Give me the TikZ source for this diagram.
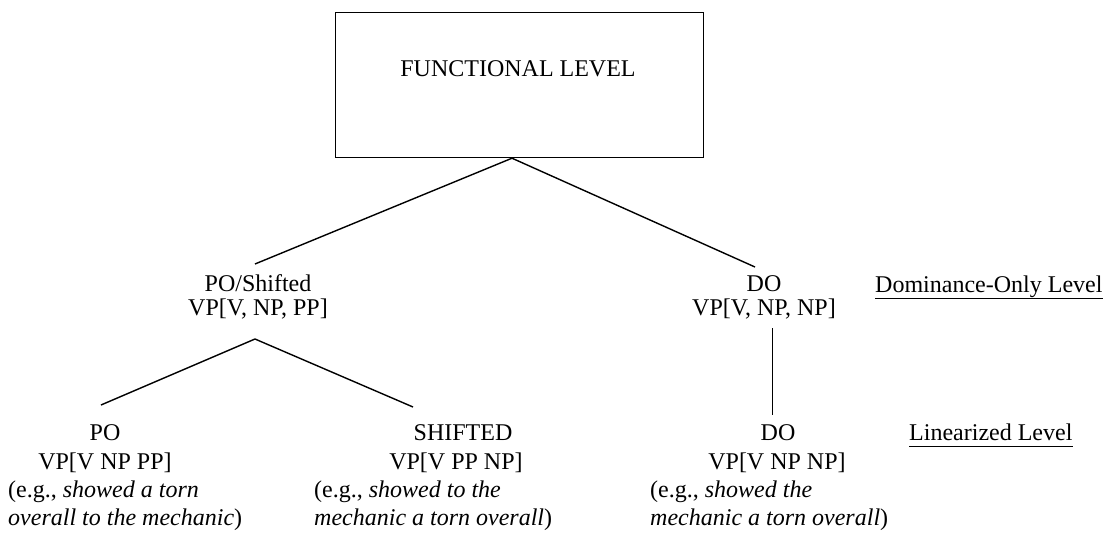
\documentclass[tikz,border=0pt]{standalone}
\usepackage{fontspec}
\setmainfont{Liberation Serif}
\begin{document}
\begin{tikzpicture}[x=1pt,y=-1pt,
  lbl/.style={anchor=base, inner sep=0pt, font=\fontsize{24}{28}\selectfont},
  ex/.style={lbl, anchor=base west},
  conn/.style={line width=1.4pt, black},
  uline/.style={line width=1pt, black}]
\useasboundingbox (0,0) rectangle (1112,536);
% functional level box
\node[draw, line width=1.2pt, minimum width=368pt, minimum height=145pt, inner sep=0pt, anchor=north west] (fl) at (335,12) {};
\node[lbl] (flt) at (518,76) {FUNCTIONAL LEVEL};
% dominance-only level
\node[lbl] (ps1) at (258,291) {PO/Shifted};
\node[lbl] (ps2) at (258,315) {VP[V, NP, PP]};
\node[lbl] (do1) at (764,291) {DO};
\node[lbl] (do2) at (764,315) {VP[V, NP, NP]};
\node[lbl, anchor=base west] (dom) at (875,292) {Dominance-Only Level};
\draw[uline] ([yshift=-6pt]dom.base west) -- ([yshift=-6pt]dom.base east);
% linearized level
\node[lbl] (po1) at (105,440) {PO};
\node[lbl] (po2) at (105,469) {VP[V NP PP]};
\node[ex] (po3) at (8,497) {(e.g., \textit{showed a torn}};
\node[ex] (po4) at (8,525) {\textit{overall to the mechanic})};
\node[lbl] (sh1) at (463,440) {SHIFTED};
\node[lbl] (sh2) at (456,469) {VP[V PP NP]};
\node[ex] (sh3) at (314,497) {(e.g., \textit{showed to the}};
\node[ex] (sh4) at (314,525) {\textit{mechanic a torn overall})};
\node[lbl] (dl1) at (778,440) {DO};
\node[lbl] (dl2) at (777,469) {VP[V NP NP]};
\node[ex] (dl3) at (650,497) {(e.g., \textit{showed the}};
\node[ex] (dl4) at (650,525) {\textit{mechanic a torn overall})};
\node[lbl, anchor=base west] (lin) at (909,440) {Linearized Level};
\draw[uline] ([yshift=-6pt]lin.base west) -- ([yshift=-6pt]lin.base east);
% connector end points
\coordinate (apex) at (512,157);
\coordinate (psTop) at (255,264);
\coordinate (doTop) at (755,267);
\coordinate (psBot) at (255,339);
\coordinate (poTop) at (101,405);
\coordinate (shTop) at (413,407);
\coordinate (doBot) at (772,328);
\coordinate (dlTop) at (772,415);
% connectors
\draw[conn] (fl.south -| apex) -- (psTop);
\draw[conn] (fl.south -| apex) -- (doTop);
\draw[conn] (psBot) -- (poTop);
\draw[conn] (psBot) -- (shTop);
\draw[line width=1pt] (doBot) -- (dlTop);
\end{tikzpicture}
\end{document}
